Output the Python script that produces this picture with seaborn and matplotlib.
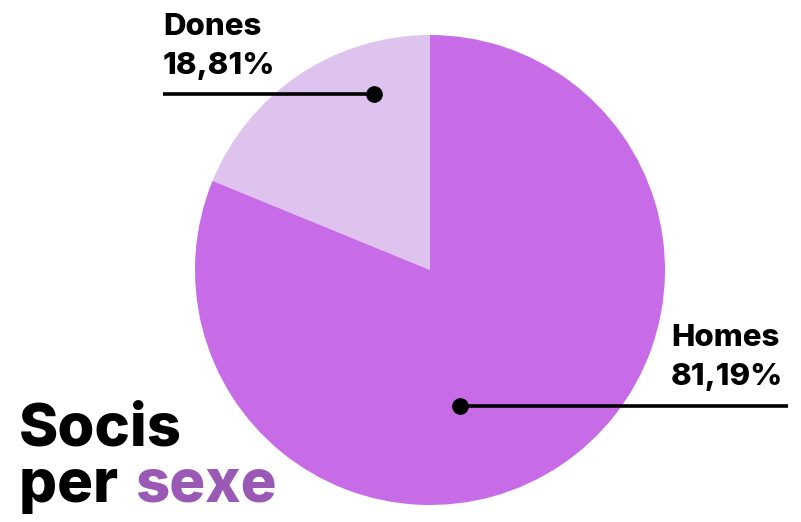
import matplotlib
matplotlib.use("Agg")
import matplotlib.pyplot as plt
import seaborn as sns

sns.set_style("white")
plt.rcParams["font.family"] = ["Inter", "DejaVu Sans"]

# data
labels = ["Dones", "Homes"]
values = [18.81, 81.19]
colors = ["#dec3ee", "#c86be6"]

W, H = 801, 522
fig = plt.figure(figsize=(W / 100, H / 100), dpi=100)
ax = fig.add_axes([0, 0, 1, 1])

# pie, center and radius in pixels (y up)
ax.pie(values, colors=colors, startangle=90, counterclock=True,
       center=(430, H - 270), radius=235, frame=True,
       wedgeprops={"linewidth": 0})
ax.set_xlim(0, W)
ax.set_ylim(0, H)
ax.set_aspect("equal")
ax.axis("off")

def px(x, y):
    return x, H - y

# leader lines
for (x0, x1, y, dot) in [(163, 374, 94, 374), (460, 788, 406, 460)]:
    ax.plot([x0, x1], [H - y, H - y], color="black", lw=2.6, solid_capstyle="butt", zorder=5)
    ax.plot([dot], [H - y], "o", color="black", ms=11, zorder=6)

# labels
def lbl(x, y, s, size=22.5):
    ax.text(*px(x, y), s, fontsize=size, fontweight="heavy", va="baseline", ha="left",
            color="black")

lbl(163, 35, labels[0])
lbl(163, 74, f"{values[0]:.2f}%".replace(".", ","))
lbl(671, 346, labels[1])
lbl(671, 385, f"{values[1]:.2f}%".replace(".", ","))

# title
ax.text(*px(19, 446), "Socis", fontsize=43, fontweight="heavy", va="baseline", color="black")
t = ax.text(*px(19, 502), "per ", fontsize=43, fontweight="heavy", va="baseline", color="black")
fig.canvas.draw()
bb = t.get_window_extent()
ax.text(bb.x1 + 4, H - 502, "sexe", fontsize=43, fontweight="heavy", va="baseline", color="#9b59b6")

fig.savefig("out.png", dpi=100)
